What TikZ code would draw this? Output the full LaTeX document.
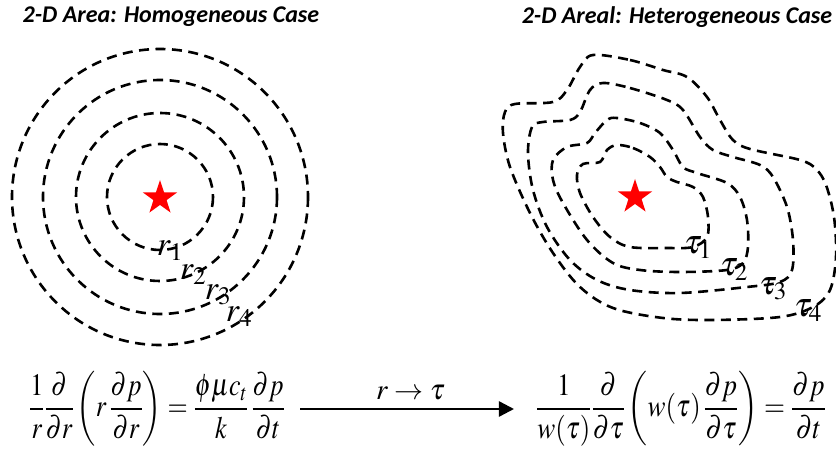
\documentclass[tikz,border=0pt]{standalone}
\usepackage{mathptmx}
\usepackage[no-math]{fontspec}
\usepackage{amsmath}
\usepackage{graphicx}
\usepackage{xcolor}
\usetikzlibrary{arrows.meta,shapes.geometric}
\newfontfamily\titlefont{Carlito}
\definecolor{wellred}{HTML}{ff0000}

\begin{document}
\begin{tikzpicture}[x=1pt, y=-1pt,
  contour/.style={draw, line width=2.6pt, dash pattern=on 10pt off 6.5pt},
  wellstar/.style={star, star points=5, star point ratio=2.6, fill=wellred, minimum size=36pt, inner sep=0pt},
  ttl/.style={font=\titlefont\bfseries\itshape\fontsize{24}{26}\selectfont},
  lbl/.style={font=\fontsize{34}{38}\selectfont, inner sep=0pt},
  eq/.style={font=\fontsize{26}{30}\selectfont, inner sep=0pt},
  arr/.style={-{Triangle[length=15pt, width=15pt]}, line width=2.4pt}]
  \useasboundingbox (0,0) rectangle (836,449);
  \clip (0,0) rectangle (836,449);
  \node[ttl] (homtitle) at (171,17) {2-D Area: Homogeneous Case};
  \node[ttl] (hettitle) at (677,17) {2-D Areal: Heterogeneous Case};
  \foreach \rad in {53,84,117,148}
    \draw[contour] (160,197) circle (\rad);
  \node[wellstar] (homwell) at (160,198) {};
  \node[lbl] (r1) at (170,251) {$r_1$};
  \node[lbl] (r2) at (193,275) {$r_2$};
  \node[lbl] (r3) at (218,295) {$r_3$};
  \node[lbl] (r4) at (239,317) {$r_4$};
  \draw[contour] plot[smooth cycle, tension=0.55] coordinates {
    (593,55) (630,60) (663,70) (687,77) (707,97) (720,120) (733,140) (750,149)
    (800,160) (816,169) (826,185) (834,217) (836,257) (830,290) (813,307)
    (780,317) (713,320) (663,318) (613,308) (580,287) (553,253) (530,213)
    (510,167) (503,133) (505,112) (515,104) (553,102) (567,90) (580,67)};
  \draw[contour] plot[smooth cycle, tension=0.55] coordinates {
    (603,83) (630,88) (667,100) (683,110) (700,137) (713,150) (733,157)
    (760,165) (773,177) (787,207) (793,240) (792,270) (780,282) (747,287)
    (680,293) (630,290) (597,280) (570,260) (547,227) (533,190) (528,153)
    (532,127) (543,122) (570,120) (580,112) (590,90)};
  \draw[contour] plot[smooth cycle, tension=0.55] coordinates {
    (617,118) (640,123) (660,133) (673,150) (683,167) (697,173) (727,183)
    (740,197) (747,220) (748,247) (743,263) (727,270) (680,272) (640,270)
    (613,263) (587,240) (563,203) (553,180) (553,160) (567,147) (587,143)
    (595,133) (607,120)};
  \draw[contour] plot[smooth cycle, tension=0.55] coordinates {
    (617,145) (633,148) (650,157) (660,167) (667,177) (677,182) (693,187)
    (703,197) (708,217) (707,237) (693,247) (667,248) (630,247) (610,237)
    (593,217) (580,193) (577,175) (583,164) (600,162) (607,150)};
  \node[wellstar] (hetwell) at (635,197) {};
  \node[lbl] (tau1) at (698,248) {$\tau_1$};
  \node[lbl] (tau2) at (734,270) {$\tau_2$};
  \node[lbl] (tau3) at (773,289) {$\tau_3$};
  \node[lbl] (tau4) at (808,311) {$\tau_4$};
  \node[eq] (homeq) at (157,409) {\scalebox{1}[1.2]{$\displaystyle \frac{1}{r}\frac{\partial}{\partial r}\left(r\,\frac{\partial p}{\partial r}\right)=\frac{\phi\mu c_t}{k}\,\frac{\partial p}{\partial t}$}};
  \node[eq, font=\fontsize{27}{30}\selectfont] (heteq) at (681,409) {\scalebox{1}[1.15]{$\displaystyle \frac{1}{w(\tau)}\frac{\partial}{\partial \tau}\left(w(\tau)\,\frac{\partial p}{\partial \tau}\right)=\frac{\partial p}{\partial t}$}};
  \draw[arr, shorten <=15pt, shorten >=22pt] (homeq) -- node[above, font=\fontsize{29}{32}\selectfont, yshift=4pt] {$r\rightarrow\tau$} (heteq);
\end{tikzpicture}
\end{document}
